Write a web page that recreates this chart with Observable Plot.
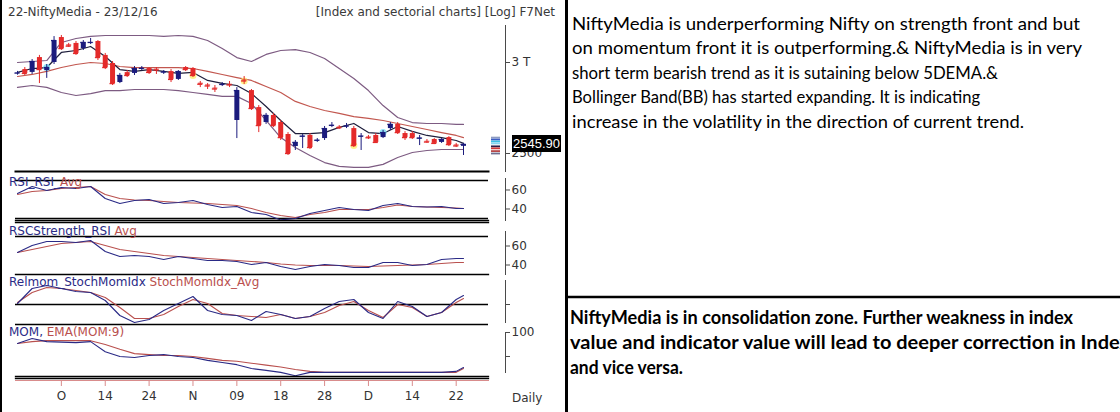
<!DOCTYPE html>
<html><head><meta charset="utf-8">
<script src="https://cdn.jsdelivr.net/npm/d3@7"></script>
<script src="https://cdn.jsdelivr.net/npm/@observablehq/plot@0.6"></script>
<style>
html,body{margin:0;padding:0;background:#fff;}
#root{position:relative;width:1120px;height:412px;overflow:hidden;background:#fff;font-family:"DejaVu Sans",sans-serif;color:#333;}
.t{position:absolute;white-space:nowrap;font-size:12px;line-height:14px;}
</style></head>
<body><div id="root"></div>
<script>
// ---------- DATA ----------
const title = "22-NiftyMedia - 23/12/16";
const subtitle = "[Index and sectorial charts] [Log] F7Net";
const lastPrice = 2545.90;

// candle OHLC, one per trading day (index 0..61)
const open  = [2935,2958,2941,3030,2952,3000,3154,3108,3117,3085,3120,3129,3043,2994,2882,2940,2935,2962,2964,2960,
               2940,2946,2900,2970,2964,2878,2868,2850,2868,2872,2671,2897,2836,2741,2660,2698,2660,2597,2535,2585,
               2592,2565,2576,2643,2636,2638,2628,2586,2584,2592,2581,2628,2650,2602,2602,2574,2562,2571,2556,2581,2543,2536];
const high  = [2947,2970,3018,3043,2988,3160,3167,3117,3129,3135,3148,3135,3055,3006,2935,2952,2976,2976,2970,2970,
               2952,2958,2952,2976,2970,2888,2876,2865,2882,2888,2853,2917,2842,2752,2709,2709,2671,2607,2566,2597,
               2602,2576,2639,2660,2644,2655,2639,2602,2592,2602,2618,2660,2660,2612,2612,2592,2571,2576,2576,2586,2551,2551];
const low   = [2925,2923,2929,2876,2906,2988,3073,3092,3043,3073,3110,3012,2958,2865,2876,2911,2923,2952,2929,2929,
               2929,2882,2894,2946,2911,2853,2842,2825,2859,2853,2576,2871,2725,2607,2650,2633,2566,2490,2515,2525,
               2520,2556,2566,2633,2623,2628,2530,2515,2571,2551,2576,2618,2597,2566,2571,2540,2551,2545,2551,2535,2530,2490];
const close = [2937,2935,3006,2958,2970,3135,3085,3100,3055,3123,3123,3030,2970,2876,2923,2923,2964,2965,2941,2955,
               2943,2900,2946,2958,2923,2872,2862,2845,2871,2868,2836,2891,2736,2644,2698,2644,2581,2500,2556,2588,
               2530,2567,2628,2645,2632,2641,2540,2588,2580,2556,2607,2650,2607,2581,2581,2578,2558,2551,2571,2545,2538,2545.9];

// indicator readings taken every second session
const lineIdx = [0,2,4,6,8,10,12,14,16,18,20,22,24,26,28,30,32,34,36,38,40,42,44,46,48,50,52,54,56,58,60,61];
const bbUpper = [3000,3006,3012,3123,3148,3161,3167,3167,3167,3167,3161,3167,3161,3135,3085,3030,3006,3049,3073,3079,3061,3024,2964,2905,2836,2752,2687,2660,2655,2655,2650,2650];
const bbMid   = [2917,2929,2947,2970,2988,3000,2994,2976,2970,2970,2970,2970,2964,2947,2929,2911,2894,2859,2825,2775,2747,2725,2709,2692,2682,2671,2655,2639,2623,2607,2592,2581];
const bbLower = [2854,2865,2854,2825,2808,2819,2836,2836,2842,2842,2842,2836,2825,2814,2803,2803,2763,2671,2581,2530,2490,2455,2436,2431,2431,2446,2480,2505,2515,2520,2520,2520];
const dema5   = [2941,2964,2970,3061,3073,3098,3036,2958,2947,2958,2947,2935,2941,2894,2877,2865,2819,2747,2671,2602,2602,2607,2634,2655,2607,2602,2639,2613,2592,2581,2566,2551];
const rsi     = [56.3,63.7,59.5,62.6,61.6,63.7,51.1,45.8,48.9,50,45.8,46.8,48.9,44.7,41.6,42.6,36.3,34.2,28.5,30,35.3,38.4,41.6,39.5,38.4,43.7,45.8,42.6,42.1,42.6,40.5,40.5];
const rsiAvg  = [55.3,58.4,59.5,61.6,62.6,63.7,55.3,51.1,49.5,48.9,47.9,46.8,46.3,45.8,44.7,43.7,40.5,36.3,33.2,31.1,34.2,36.3,39.5,39.5,39.5,41.6,44.2,42.6,42.1,41.6,41.1,40.5];
const rsc     = [53.2,60.5,64.7,64.7,63.7,65.8,54.2,48.9,50,48.9,45.8,48.9,46.8,44.7,44.7,43.7,40.5,42.6,38.4,35.3,38.4,40.5,39.5,37.4,37.4,42.6,42.6,39.5,40.5,45.8,46.8,46.8];
const rscAvg  = [53.2,56.3,59.5,62.6,63.7,64.7,60.5,56.3,54.2,52.1,50,48.9,47.9,46.8,45.8,44.7,43.7,42.6,41.1,40,39.5,39.5,39.5,38.9,38.4,38.9,39.5,40,40.5,41.6,42.6,42.6];
const smi     = [2,32,38,32,26,24,8,-22,-36,-30,-12,2,16,-12,-20,-22,-32,-14,-20,-28,-24,-8,6,10,-16,-28,6,-4,-24,-16,10,18];
const smiAvg  = [4,24,34,32,28,24,14,-6,-28,-28,-20,-4,10,2,-18,-22,-24,-26,-20,-28,-24,-16,-2,6,-12,-26,0,-6,-24,-16,4,12];
const mom     = [97.7,98.75,98.1,98.0,97.9,98.1,96.0,95.0,94.8,95.2,95.4,95.0,94.8,94.2,93.75,93.3,92.5,92.1,91.7,91.0,91.7,91.7,91.7,91.7,91.7,91.7,91.7,91.7,91.7,91.7,91.9,92.7];
const momEma  = [97.7,98.1,98.3,98.3,98.3,98.3,97.5,96.5,95.6,95.4,95.2,95.2,95.0,94.6,94.2,94.0,93.6,93.2,92.8,92.3,91.9,91.7,91.7,91.7,91.7,91.7,91.7,91.7,91.7,91.7,91.7,92.5];

// 5DEMA crossover highlights (session index)
const cyanIdx = [4, 50];
const yellowIdx = [24, 31, 46];

// stacked last-value markers beside the price axis
const markerLevels = [2581,2571,2561,2551,2536,2526,2512,2500];
const markerColors = ["#8d9cc0","#3b5cc4","#3cc0e4","#86d6f2","#2a1f4a","#d03a3a","#b84848","#6f6f8f"];

// x-axis ticks
const tickIdx = [6,12,18,24,30,36,42,48,54,60];
const tickLabels = ["O","14","24","N","09","18","28","D","14","22"];

// commentary
const noteLines = [
  "NiftyMedia is underperforming Nifty on strength front and but",
  "on momentum front it is outperforming.& NiftyMedia is in very",
  "short term bearish trend as it is sutaining below 5DEMA.&",
  "Bollinger Band(BB) has started expanding. It is indicating",
  "increase in the volatility in the direction of current trend."
];
const noteBoldLines = [
  "NiftyMedia is in consolidation zone. Further weakness in index",
  "value and indicator value will lead to deeper correction in Index",
  "and vice versa."
];

// ---------- LAYOUT / STYLE ----------
const root = document.getElementById("root");
const C = {navy:"#1b1b7d", red:"#e42a2a", band:"#7d5b82", mid:"#c2574f", dema:"#1e1e3c",
           ind:"#2a2a86", avg:"#b9504e", axis:"#4a4a4a", pink:"#d98c8c", text:"#333"};
function place(el, left, top){ el.style.position="absolute"; el.style.left=left+"px"; el.style.top=top+"px"; root.appendChild(el); return el; }
const frameStyle = {overflow:"visible", background:"transparent", fontFamily:"DejaVu Sans, sans-serif", fontSize:"12px", color:C.text};
const base = h => ({width:565, height:h, marginLeft:15, marginRight:77, marginTop:0, marginBottom:0,
  x:{domain:[0,61], range:[17,463], axis:null}, style:frameStyle});

const candles = open.map((o,i)=>({i, o, h:high[i], l:low[i], c:close[i], col: close[i]>=o ? C.navy : C.red}));
const lines = lineIdx.map((i,k)=>({i, upper:bbUpper[k], mid:bbMid[k], lower:bbLower[k], dema:dema5[k],
  rsi:rsi[k], rsiAvg:rsiAvg[k], rsc:rsc[k], rscAvg:rscAvg[k], smi:smi[k], smiAvg:smiAvg[k], mom:mom[k], momEma:momEma[k]}));
const markers = markerLevels.map((v,k)=>({v, col:markerColors[k]}));
const dashSymbol = {draw(ctx){ ctx.moveTo(-4.5,-0.9); ctx.lineTo(4.5,-0.9); ctx.lineTo(4.5,0.9); ctx.lineTo(-4.5,0.9); ctx.closePath(); }};

// ---------- MAIN PRICE PANEL ----------
const main = Plot.plot({...base(151),
  y:{type:"log", domain:[2411.4, 3263.5], label:null},
  color:{type:"identity"},
  marks:[
    Plot.line(lines,{x:"i", y:"upper", stroke:C.band, strokeWidth:1.2}),
    Plot.line(lines,{x:"i", y:"lower", stroke:C.band, strokeWidth:1.2}),
    Plot.line(lines,{x:"i", y:"mid", stroke:C.mid, strokeWidth:1.2}),
    Plot.line(lines,{x:"i", y:"dema", stroke:C.dema, strokeWidth:1.2}),
    Plot.dot(cyanIdx,{x:d=>d, y:d=>close[d], r:3.5, fill:"#7fe0f5", fillOpacity:0.85}),
    Plot.dot(yellowIdx,{x:d=>d, y:d=>close[d], r:3.5, fill:"#fff07a", fillOpacity:0.85}),
    Plot.ruleX(candles,{x:"i", y1:"l", y2:"h", stroke:"col", strokeWidth:1}),
    Plot.ruleX(candles,{x:"i", y1:"o", y2:"c", stroke:"col", strokeWidth:5}),
    Plot.ruleY(candles,{x1:d=>d.i-0.35, x2:d=>d.i+0.35, y:"c", stroke:"col", strokeWidth:1.3}),
    Plot.dot(markers,{y:"v", frameAnchor:"right", dx:7, symbol:dashSymbol, r:4.5, fill:"col", stroke:null}),
    Plot.frame({anchor:"right", dx:17, insetTop:5, stroke:C.axis}),
    Plot.axisY({anchor:"right", dx:17, ticks:[2500,3000], tickFormat:d=>d===3000?"3 T":String(d),
      tickSize:4, tickPadding:2, stroke:C.axis, fill:C.text, label:null}),
    Plot.frame({anchor:"bottom", stroke:"black", strokeWidth:2})
  ]});
place(main, 0, 20);

// ---------- INDICATOR PANELS ----------
function indicator(top, height, domain, a, b, levels, o){
  const marks = [
    Plot.ruleY(levels,{stroke:"black", strokeWidth:1.3}),
    Plot.line(lines,{x:"i", y:b, stroke:C.avg, strokeWidth:1.1}),
    Plot.line(lines,{x:"i", y:a, stroke:C.ind, strokeWidth:1.1}),
    Plot.frame({anchor:"right", dx:17, insetTop:o.axTop, insetBottom:o.axBottom, stroke:C.axis}),
    Plot.axisY({anchor:"right", dx:17, ticks:o.ticks, tickFormat:o.fmt, tickSize:4, tickPadding:2,
      stroke:C.axis, fill:C.text, label:null})
  ];
  if (o.top) marks.push(Plot.frame({anchor:"top", stroke:"black", strokeWidth:1.3}));
  if (o.bottom) marks.push(Plot.frame({anchor:"bottom", stroke:"black", strokeWidth:1.3}));
  place(Plot.plot({...base(height), y:{domain, label:null}, marks}), 0, top);
}
indicator(171, 49, [27.89, 79.47], "rsi", "rsiAvg", [70, 30], {bottom:true, ticks:[60,40], fmt:d=>String(d), axTop:7, axBottom:0});
indicator(222, 52, [30, 84.74], "rsc", "rscAvg", [70], {top:true, bottom:true, ticks:[60,40], fmt:d=>String(d), axTop:9, axBottom:0});
indicator(274, 52, [-44, 60], "smi", "smiAvg", [0, -40], {ticks:[0], fmt:()=>"", axTop:6, axBottom:4});
indicator(326, 50, [90.833, 101.25], "mom", "momEma", [], {bottom:true, ticks:[100,95], fmt:d=>d===100?"100":"", axTop:6, axBottom:4});

// ---------- DATE AXIS ----------
const xAxis = Plot.plot({width:565, height:36, marginLeft:15, marginRight:77, marginTop:2, marginBottom:32,
  x:{domain:[0,61], range:[17,463]}, style:frameStyle,
  marks:[
    Plot.frame({anchor:"top", stroke:"black", strokeWidth:1.3}),
    Plot.frame({anchor:"bottom", stroke:C.pink}),
    Plot.axisX({anchor:"bottom", ticks:tickIdx, tickFormat:d=>tickLabels[tickIdx.indexOf(d)],
      tickSize:6, tickPadding:5, stroke:C.pink, fill:C.text, label:null})
  ]});
place(xAxis, 0, 376);

// ---------- TEXT OVERLAYS ----------
function label(left, top, html, css=""){ const d=document.createElement("div"); d.className="t"; d.style.cssText+=css; d.innerHTML=html; return place(d,left,top); }
label(8, 5, title, "color:#3a3a3a;");
label(0, 5, subtitle, "color:#3a3a3a;width:555px;text-align:right;");
const nv = s=>`<span style="color:${C.ind}">${s}</span>`, rd = s=>`<span style="color:${C.avg}">${s}</span>`;
label(9, 175, nv("RSI_RSI_")+rd("Avg"));
label(9, 224, nv("RSCStrength_RSI ")+rd("Avg"));
label(9, 275, nv("Relmom_StochMomIdx ")+rd("StochMomIdx_Avg"));
label(9, 325, nv("MOM, ")+rd("EMA(MOM:9)"));
label(512, 391, "Daily");

// last price box, positioned through the main y scale
const py = main.scale("y").apply(lastPrice) + 20;
label(512, py - 8.5, lastPrice.toFixed(2),
  "background:#000;color:#fff;font-family:'Liberation Sans',sans-serif;font-size:13px;line-height:17px;padding:0 1px;");

// ---------- COMMENTARY PANEL ----------
const ns = "http://www.w3.org/2000/svg";
const svg = document.createElementNS(ns, "svg");
svg.setAttribute("width", 555); svg.setAttribute("height", 412);
const noteLayout = {x:7, y0:29.5, step:24.6, widths:[508,510,426,408,452]};
const boldLayout = {x:5, y0:323.5, step:25, widths:[503,560,113]};
let s = `<line x1="1.5" y1="0" x2="1.5" y2="412" stroke="#000" stroke-width="3"/>
<line x1="0" y1="297" x2="555" y2="297" stroke="#000" stroke-width="2.5"/>`;
noteLines.forEach((t,k)=>{ s += `<text x="${noteLayout.x}" y="${noteLayout.y0+k*noteLayout.step}" font-family="Lato" font-size="18" fill="#000" textLength="${noteLayout.widths[k]}" lengthAdjust="spacingAndGlyphs">${t.replace(/&/g,"&amp;")}</text>`; });
noteBoldLines.forEach((t,k)=>{ s += `<text x="${boldLayout.x}" y="${boldLayout.y0+k*boldLayout.step}" font-family="Lato" font-weight="bold" font-size="18" fill="#000" textLength="${boldLayout.widths[k]}" lengthAdjust="spacingAndGlyphs">${t}</text>`; });
svg.innerHTML = s;
place(svg, 565, 0);

// left frame edge
const edge = document.createElement("div");
edge.style.cssText = "width:2px;height:412px;background:#000;";
place(edge, 0, 0);
</script></body></html>
